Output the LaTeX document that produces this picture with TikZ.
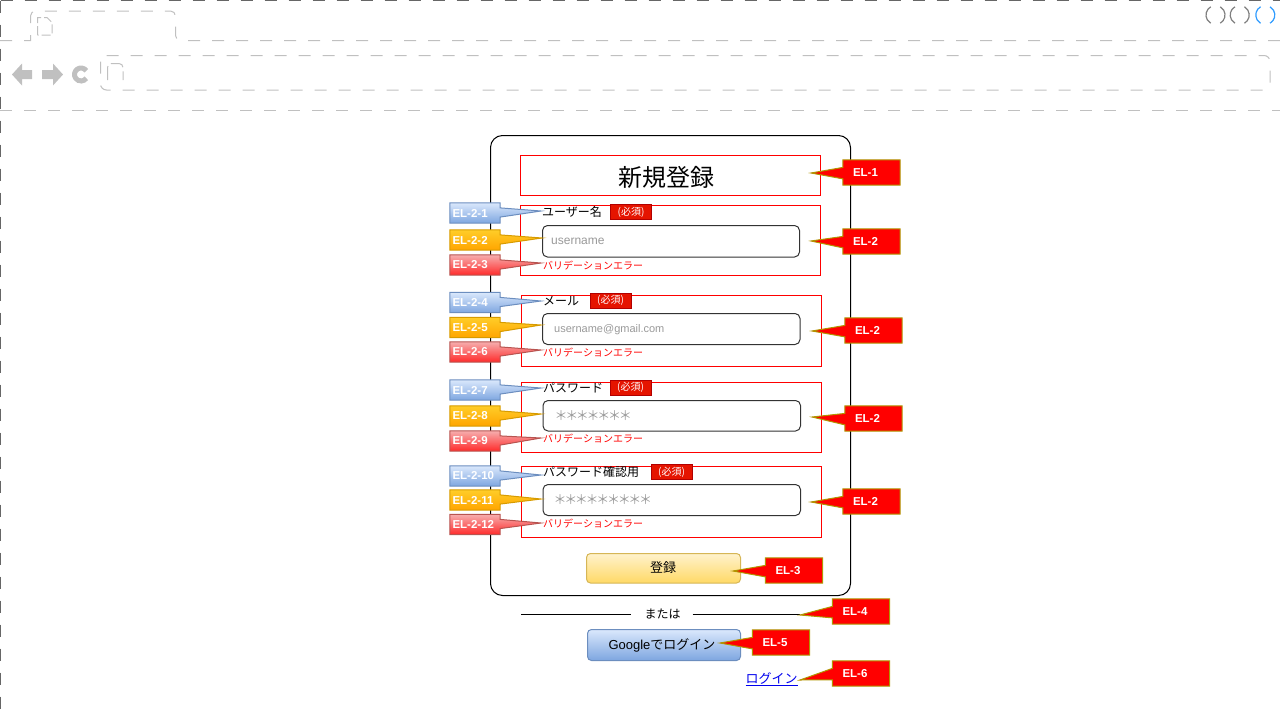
\documentclass[tikz,border=0pt]{standalone}
\usepackage{fontspec}
\setmainfont{Liberation Sans}
\newfontfamily\cjk{Noto Sans CJK JP}
\usetikzlibrary{calc}
\pgfdeclarelayer{front}
\pgfsetlayers{main,front}
\definecolor{chromeDark}{HTML}{666666}
\definecolor{chromeLight}{HTML}{C0C0C0}
\definecolor{badgeFill}{HTML}{E51400}
\definecolor{badgeLine}{HTML}{B20000}
\definecolor{elGold}{HTML}{B09500}
\definecolor{blueTop}{HTML}{DAE8FC}
\definecolor{blueBot}{HTML}{7EA6E0}
\definecolor{blueLine}{HTML}{6C8EBF}
\definecolor{orgTop}{HTML}{FFCD28}
\definecolor{orgBot}{HTML}{FFA500}
\definecolor{orgLine}{HTML}{D79B00}
\definecolor{pinkTop}{HTML}{F6AEAE}
\definecolor{pinkBot}{HTML}{FF2A2A}
\definecolor{pinkLine}{HTML}{B85450}
\definecolor{yelTop}{HTML}{FFF2CC}
\definecolor{yelBot}{HTML}{FFD966}
\definecolor{yelLine}{HTML}{D6B656}
\definecolor{phGray}{HTML}{999999}
\definecolor{linkBlue}{HTML}{0000EE}
\definecolor{dotGray}{HTML}{7F7F7F}
\definecolor{dotBlue}{HTML}{2E9BFF}
\tikzset{
  chromeD/.style={draw=chromeDark, line width=1.2, dash pattern=on 12pt off 12pt},
  chromeL/.style={draw=chromeLight, line width=1, dash pattern=on 12pt off 12pt},
  redbox/.style={draw=red, line width=0.9},
  inputbox/.style={draw=black!80, rounded corners=5, line width=1},
  lbl/.style={anchor=west, inner sep=0, font=\cjk\fontsize{12}{12}\selectfont},
  ph/.style={anchor=west, inner sep=0, text=phGray, font=\fontsize{12}{12}\selectfont},
  stars/.style={anchor=west, inner sep=0, text=phGray, font=\cjk\fontsize{13}{13}\selectfont},
  err/.style={anchor=west, inner sep=0, text=red, font=\cjk\fontsize{10}{10}\selectfont},
  badge/.style={fill=badgeFill, draw=badgeLine, line width=0.8, inner sep=0, minimum width=41, minimum height=15, text=white, font=\cjk\fontsize{10}{10}\selectfont},
  callR/.style={inner xsep=10, inner ysep=0, text width=37, align=left, minimum height=25, text=white, font=\bfseries\fontsize{11.5}{11.5}\selectfont},
  callL/.style={inner xsep=2.5, inner ysep=0, text width=45, align=left, minimum height=20, text=white, font=\bfseries\fontsize{11.5}{11.5}\selectfont},
  shapeRed/.style={fill=red, draw=elGold, line width=1},
  shapeBlue/.style={top color=blueTop, bottom color=blueBot, draw=blueLine, line width=1},
  shapeOrg/.style={top color=orgTop, bottom color=orgBot, draw=orgLine, line width=1},
  shapePink/.style={top color=pinkTop, bottom color=pinkBot, draw=pinkLine, line width=1},
}
\newcommand\wedgeR[3]{\path[#3] (#1.north west) -- (#1.north east) -- (#1.south east) -- (#1.south west) -- ($(#1.north west)!.75!(#1.south west)$) -- (#2) -- ($(#1.north west)!.3!(#1.south west)$) -- cycle;}
\newcommand\wedgeL[3]{\path[#3] (#1.north west) -- (#1.north east) -- ($(#1.north east)!.25!(#1.south east)$) -- (#2) -- ($(#1.north east)!.7!(#1.south east)$) -- (#1.south east) -- (#1.south west) -- cycle;}
\newcommand\astk{\makebox[10.7pt]{＊}}
\begin{document}
\begin{tikzpicture}[x=1pt,y=-1pt]
\useasboundingbox (0,0) rectangle (1280,720);
% ---------- browser chrome ----------
\draw[chromeD] (0.6,0.6) -- (1280,0.6);
\draw[chromeD] (0.6,0.6) -- (0.6,720);
\draw[chromeL] (0,40.5) -- (30.5,40.5) [rounded corners=5] -- (30.5,11) -- (175.5,11) -- (175.5,40.5) [sharp corners] -- (1280,40.5);
\draw[chromeL, dash pattern=on 9pt off 3pt] (37.5,35) -- (37.5,17.5) -- (47,17.5) -- (52,22.5) -- (52,35) -- cycle;
\fill[chromeLight] (12,74.5) -- (22,63.5) -- (22,70) -- (32,70) -- (32,79) -- (22,79) -- (22,85.5) -- cycle;
\fill[chromeLight] (63,74.5) -- (53,63.5) -- (53,70) -- (42,70) -- (42,79) -- (53,79) -- (53,85.5) -- cycle;
\draw[chromeLight, line width=5] (81,74.5) ++(35:6.5pt) arc[start angle=35, end angle=325, radius=6.5pt];
\draw[chromeL, rounded corners=6] (100.5,55.5) rectangle (1270,90);
\draw[chromeL, dash pattern=on 14pt off 4pt, rounded corners=4] (107.5,80) -- (107.5,63.5) -- (123,63.5) -- (123,80);
\draw[chromeL] (0,110.5) -- (1280,110.5);
\foreach \cx/\cc in {1215.5/dotGray, 1239.7/dotGray, 1265.3/dotBlue}{
  \draw[draw=\cc, line width=1.2] (\cx,15) ++(-60:9.5pt) arc[start angle=-60, end angle=60, radius=9.5pt];
  \draw[draw=\cc, line width=1.2] (\cx,15) ++(120:9.5pt) arc[start angle=120, end angle=240, radius=9.5pt];
}
% ---------- card ----------
\draw[black, line width=1, rounded corners=12] (490.5,135.5) rectangle (850.5,595.5);
\draw[redbox] (520.5,155.5) rectangle (820.5,195.5);
\node[inner sep=0, font=\cjk\fontsize{24}{24}\selectfont] (title) at (666,177) {新規登録};
% field 1
\draw[redbox] (520.5,205.5) rectangle (820.5,275.5);
\node[lbl] (l1) at (542,212) {ユーザー名};
\node[badge] (b1) at (631,212) {(必須)};
\draw[inputbox] (542.5,225.5) rectangle (799.5,257);
\node[ph] (p1) at (551,241.5) {username};
\node[err] (e1) at (543,266) {バリデーションエラー};
% field 2
\draw[redbox] (521,295.5) rectangle (821,366);
\node[lbl] (l2) at (543,301) {メール};
\node[badge] (b2) at (610.5,300.5) {(必須)};
\draw[inputbox] (542.5,313.5) rectangle (800,344.5);
\node[ph, font=\fontsize{11}{11}\selectfont] (p2) at (554,329.5) {username@gmail.com};
\node[err] (e2) at (543,352.5) {バリデーションエラー};
% field 3
\draw[redbox] (521,382.5) rectangle (821,452.5);
\node[lbl] (l3) at (543,387.5) {パスワード};
\node[badge] (b3) at (630.5,387.5) {(必須)};
\draw[inputbox] (543,400.5) rectangle (800.5,431);
\node[stars] (p3) at (555.5,416) {\astk\astk\astk\astk\astk\astk\astk};
\node[err] (e3) at (543,439) {バリデーションエラー};
% field 4
\draw[redbox] (521.5,466.5) rectangle (821.5,537);
\node[lbl] (l4) at (543,472) {パスワード確認用};
\node[badge] (b4) at (671.5,472) {(必須)};
\draw[inputbox] (543,484.5) rectangle (800.5,515.5);
\node[stars] (p4) at (554.5,500) {\astk\astk\astk\astk\astk\astk\astk\astk\astk};
\node[err] (e4) at (543,524) {バリデーションエラー};
% register button
\draw[top color=yelTop, bottom color=yelBot, draw=yelLine, rounded corners=4, line width=1] (586.5,553.5) rectangle (740.5,583);
\node[inner sep=0, font=\cjk\fontsize{13}{13}\selectfont] (reg) at (663,568) {登録};
% or line
\node[inner sep=0, font=\cjk\fontsize{12}{12}\selectfont] (or) at (662.5,614) {または};
\coordinate (orL) at (521,614.5);
\coordinate (orR) at (800,614.5);
\draw[black, line width=1] (orL) -- ($(or.west)+(-13,0.5)$);
\draw[black, line width=1] ($(or.east)+(12,0.5)$) -- (orR);
% google button
\draw[top color=blueTop, bottom color=blueBot, draw=blueLine, rounded corners=4, line width=1] (587.5,629.5) rectangle (740.5,660.5);
\node[inner sep=0, font=\fontsize{13}{13}\selectfont] (gg) at (662,645) {Google{\cjk でログイン}};
% link
\node[inner sep=0, text=linkBlue, font=\cjk\fontsize{13}{13}\selectfont] (lnk) at (771.5,679) {\underline{ログイン}};
% ---------- tips ----------
\coordinate (t1) at (541,211);
\coordinate (t2) at (542,238);
\coordinate (t3) at (541,263);
\coordinate (t4) at (541,301);
\coordinate (t5) at (541,325);
\coordinate (t6) at (541,350);
\coordinate (t7) at (541,388);
\coordinate (t8) at (541,414);
\coordinate (t9) at (541,438);
\coordinate (t10) at (541,475);
\coordinate (t11) at (541,499);
\coordinate (t12) at (541,523);
\coordinate (r1) at (811,173);
\coordinate (r2) at (811,241);
\coordinate (r3) at (812,331);
\coordinate (r4) at (812,417);
\coordinate (r5) at (811,502);
\coordinate (r6) at (733,571);
\coordinate (r7) at (800,615);
\coordinate (r8) at (720,643);
\coordinate (r9) at (800,680);
% ---------- callout labels ----------
\begin{pgfonlayer}{front}
\node[callL] (c1) at (475,213) {EL-2-1};
\node[callL] (c2) at (475,240) {EL-2-2};
\node[callL] (c3) at (475,265) {EL-2-3};
\node[callL] (c4) at (475,302.5) {EL-2-4};
\node[callL] (c5) at (475,327.5) {EL-2-5};
\node[callL] (c6) at (475,352) {EL-2-6};
\node[callL] (c7) at (475,390) {EL-2-7};
\node[callL] (c8) at (475,416) {EL-2-8};
\node[callL] (c9) at (475,441) {EL-2-9};
\node[callL] (c10) at (475,476) {EL-2-10};
\node[callL] (c11) at (475,500) {EL-2-11};
\node[callL] (c12) at (475,524.5) {EL-2-12};
\node[callR] (d1) at (871.5,172.5) {EL-1};
\node[callR] (d2) at (871.5,241.5) {EL-2};
\node[callR] (d3) at (873.5,330.5) {EL-2};
\node[callR] (d4) at (873.5,418.5) {EL-2};
\node[callR] (d5) at (871.5,501.5) {EL-2};
\node[callR] (d6) at (794,570.5) {EL-3};
\node[callR] (d7) at (861,611.5) {EL-4};
\node[callR] (d8) at (781,642.5) {EL-5};
\node[callR] (d9) at (861,673.5) {EL-6};
\end{pgfonlayer}
% ---------- callout shapes ----------
\wedgeL{c1}{t1}{shapeBlue}
\wedgeL{c2}{t2}{shapeOrg}
\wedgeL{c3}{t3}{shapePink}
\wedgeL{c4}{t4}{shapeBlue}
\wedgeL{c5}{t5}{shapeOrg}
\wedgeL{c6}{t6}{shapePink}
\wedgeL{c7}{t7}{shapeBlue}
\wedgeL{c8}{t8}{shapeOrg}
\wedgeL{c9}{t9}{shapePink}
\wedgeL{c10}{t10}{shapeBlue}
\wedgeL{c11}{t11}{shapeOrg}
\wedgeL{c12}{t12}{shapePink}
\wedgeR{d1}{r1}{shapeRed}
\wedgeR{d2}{r2}{shapeRed}
\wedgeR{d3}{r3}{shapeRed}
\wedgeR{d4}{r4}{shapeRed}
\wedgeR{d5}{r5}{shapeRed}
\wedgeR{d6}{r6}{shapeRed}
\wedgeR{d7}{r7}{shapeRed}
\wedgeR{d8}{r8}{shapeRed}
\wedgeR{d9}{r9}{shapeRed}
\end{tikzpicture}
\end{document}
